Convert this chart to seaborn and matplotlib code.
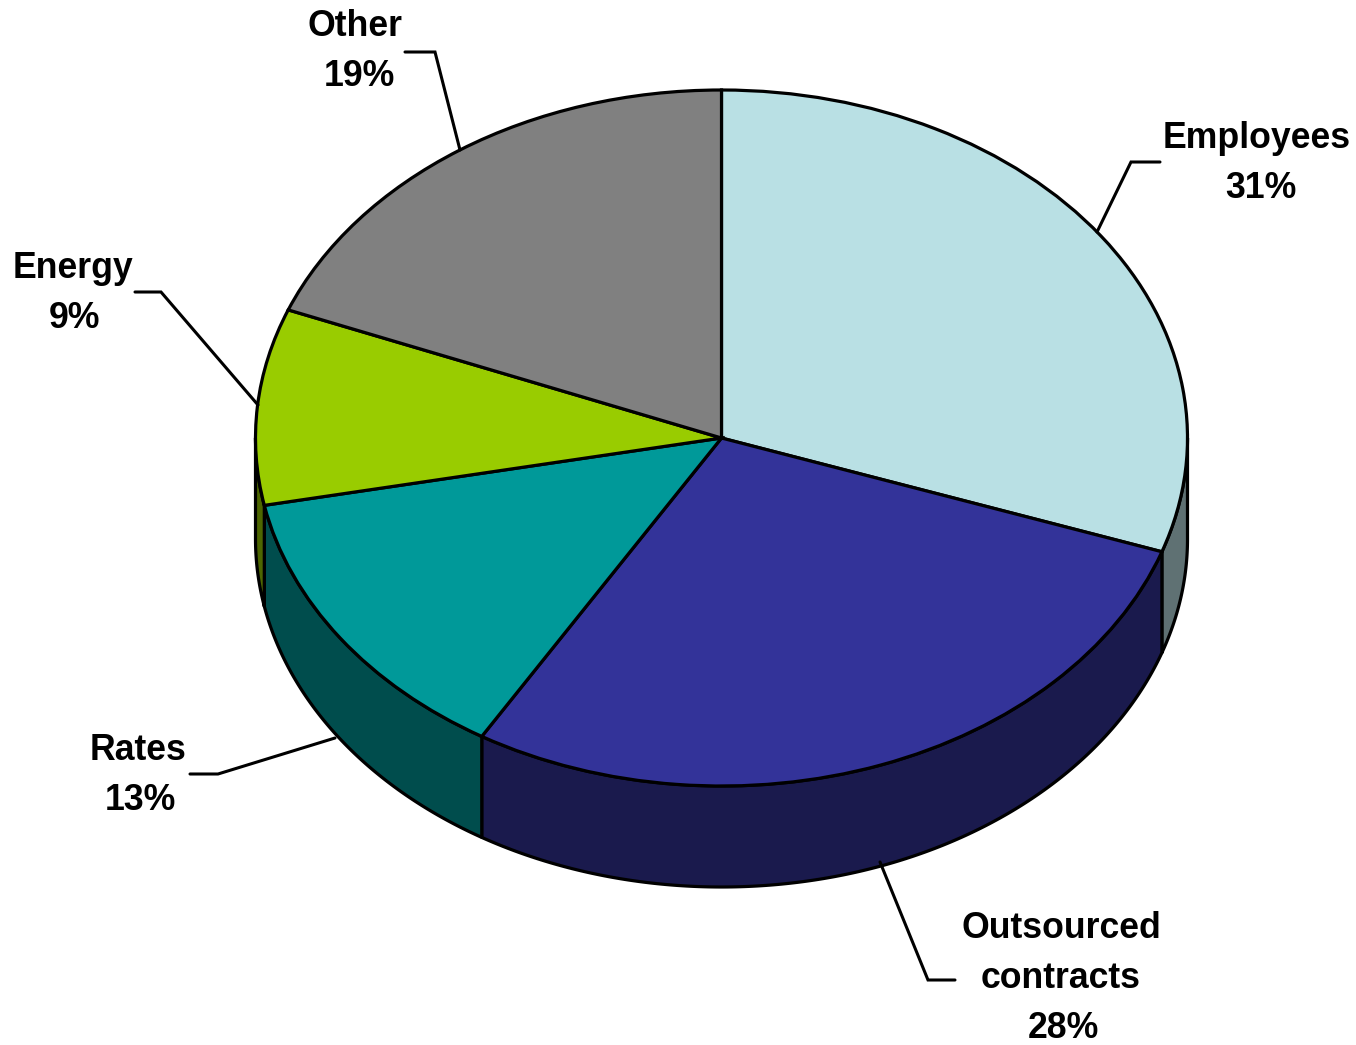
import numpy as np
import matplotlib
matplotlib.use("Agg")
import matplotlib.pyplot as plt
import seaborn as sns

categories = ["Employees", "Outsourced\ncontracts", "Rates", "Energy", "Other"]
values = [30.3, 28.3, 13.3, 9.1, 19]
percent_labels = ["31%", "28%", "13%", "9%", "19%"]
top_colors = ["#B9E0E4", "#333399", "#009999", "#99CC00", "#808080"]
side_colors = ["#5F7173", "#1A1A4D", "#004D4D", "#4D6600", "#404040"]

W, H = 1356, 1045
CX, CY, RX, RY, DEPTH = 721.5, 438, 466, 348, 101

sns.set_theme(style="white")
plt.rcParams["font.family"] = ["Liberation Sans", "DejaVu Sans"]
fig = plt.figure(figsize=(W / 100, H / 100), dpi=100, facecolor="white")

ax = fig.add_axes([0, 0, 1, 1])
top_pal = sns.color_palette(top_colors)
side_pal = sns.color_palette(side_colors)

# Side wall of the disc, one band per slice, front half only
edges = np.concatenate([[0], np.cumsum(values)]) / np.sum(values) * 360
d = DEPTH / RY
for i in range(len(values)):
    a0, a1 = max(edges[i], 90), min(edges[i + 1], 270)
    if a1 <= a0:
        continue
    t = np.radians(np.linspace(a0, a1, 200))
    xs, ys = np.sin(t), np.cos(t)
    px = np.concatenate([xs, xs[::-1]])
    py = np.concatenate([ys, ys[::-1] - d])
    ax.fill(px, py, facecolor=side_pal[i], edgecolor="black", lw=2.3, zorder=1, joinstyle="round")

# Top face: circular pie stretched into an ellipse by the axes limits
ax.pie(values, startangle=90, counterclock=False, colors=top_pal, radius=1,
       wedgeprops=dict(edgecolor="black", linewidth=2.3, zorder=2))
ax.set_aspect("auto")
ax.set_xlim(-CX / RX, (W - CX) / RX)
ax.set_ylim((CY - H) / RY, CY / RY)
ax.axis("off")

# Labels and leader lines in pixel coordinates
ov = fig.add_axes([0, 0, 1, 1], facecolor="none")
ov.set_xlim(0, W)
ov.set_ylim(H, 0)
ov.axis("off")

leaders = [
    [(1097, 232), (1131, 162), (1160, 162)],
    [(880, 862), (928, 980), (955, 980)],
    [(335, 738), (218, 774), (190, 774)],
    [(258, 405), (161, 292), (135, 292)],
    [(460, 150), (435, 52), (405, 52)],
]
label_pos = [(1257, 134), (1061, 924), (138, 746), (73, 264), (355, 23)]
pct_x = [1261, 1063, 140, 75, 359]
LINE = 50
for cat, pct, lead, (lx, ly), px_ in zip(categories, percent_labels, leaders, label_pos, pct_x):
    xs_, ys_ = zip(*lead)
    ov.plot(xs_, ys_, color="black", lw=2.2, solid_joinstyle="miter")
    lines = cat.split("\n")
    for j, s in enumerate(lines):
        ov.text(lx, ly + j * LINE, s, ha="center", va="center_baseline", fontsize=25.7,
                fontweight="bold", color="black")
    ov.text(px_, ly + len(lines) * LINE, pct, ha="center", va="center_baseline", fontsize=25.7,
            fontweight="bold", color="black")

fig.savefig("out.png", dpi=100)
